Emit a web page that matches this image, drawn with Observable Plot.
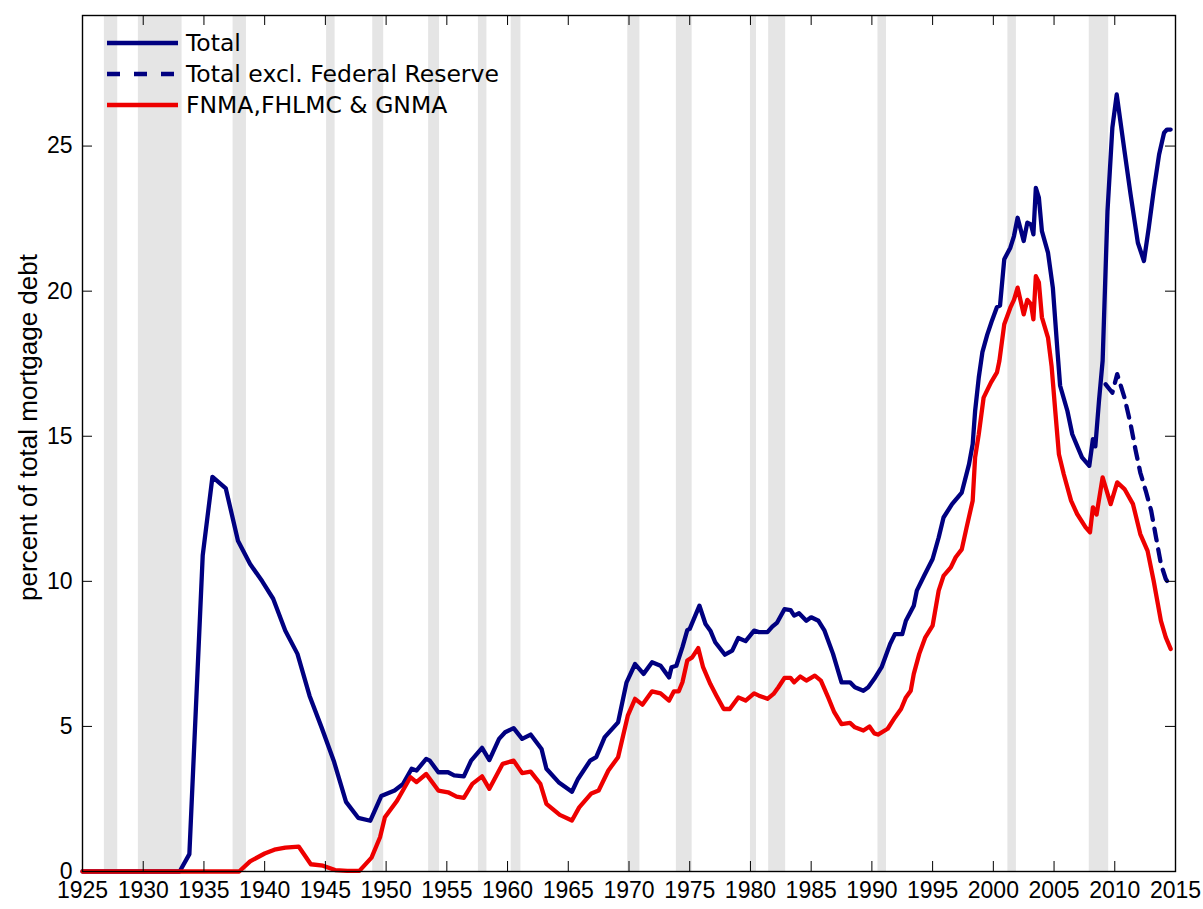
<!DOCTYPE html>
<html><head><meta charset="utf-8">
<script src="https://cdn.jsdelivr.net/npm/d3@7"></script>
<script src="https://cdn.jsdelivr.net/npm/@observablehq/plot@0.6"></script>
<style>
body{margin:0;background:#fff}
#chart g[aria-label="x-axis tick label"], #chart g[aria-label="x-axis tick label"] text,
#chart g[aria-label="y-axis tick label"], #chart g[aria-label="y-axis tick label"] text {font-size:23px !important;}
</style>
</head><body><div id="chart"></div>
<script>
// ---- data ----
const totalYears = [1925,1933.0,1933.8,1934.9,1935.7,1936.8,1937.8,1938.8,1939.8,1940.7,1941.7,1942.7,1943.7,1944.7,1945.7,1946.7,1947.7,1948.7,1949.6,1950.7,1951.4,1952.1,1952.5,1953.3,1953.6,1954.3,1955.1,1955.6,1956.4,1957.0,1957.9,1958.5,1959.3,1959.8,1960.5,1961.2,1961.9,1962.8,1963.2,1964.2,1965.3,1965.8,1966.8,1967.3,1968.0,1969.1,1969.8,1970.5,1971.2,1971.9,1972.6,1973.3,1973.5,1973.9,1974.4,1974.8,1975.0,1975.8,1976.3,1976.7,1977.1,1977.9,1978.5,1979.0,1979.6,1980.3,1980.7,1981.4,1981.8,1982.2,1982.8,1983.3,1983.6,1984.0,1984.6,1985.0,1985.6,1986.1,1986.8,1987.5,1988.2,1988.6,1989.3,1989.7,1990.2,1990.8,1991.5,1991.9,1992.5,1992.8,1993.45,1993.7,1994.3,1995.0,1995.5,1995.9,1996.6,1997.4,1998.0,1998.3,1998.5,1998.8,1999.1,1999.5,1999.9,2000.3,2000.55,2000.9,2001.4,2001.7,2002.0,2002.5,2002.8,2003.1,2003.3,2003.5,2003.75,2004.0,2004.5,2004.9,2005.3,2005.5,2006.1,2006.5,2006.9,2007.3,2007.9,2008.2,2008.4,2008.7,2009.0,2009.4,2009.8,2010.16,2010.8,2011.3,2011.9,2012.4,2012.8,2013.2,2013.65,2014.06,2014.3,2014.6];
const totalValues = [0,0,0.6,10.9,13.6,13.2,11.4,10.6,10.0,9.4,8.3,7.5,6.05,4.95,3.8,2.4,1.85,1.75,2.6,2.79,3.02,3.54,3.48,3.88,3.82,3.42,3.42,3.31,3.28,3.82,4.26,3.84,4.57,4.80,4.94,4.57,4.72,4.22,3.54,3.08,2.75,3.19,3.82,3.94,4.63,5.14,6.52,7.15,6.81,7.21,7.09,6.69,7.04,7.09,7.73,8.32,8.36,9.16,8.53,8.3,7.9,7.47,7.61,8.05,7.94,8.3,8.25,8.25,8.44,8.58,9.04,9.01,8.82,8.9,8.64,8.76,8.64,8.3,7.5,6.52,6.52,6.35,6.23,6.35,6.64,7.04,7.84,8.18,8.18,8.64,9.16,9.68,10.19,10.77,11.51,12.2,12.66,13.06,14.04,14.73,15.87,17.02,17.9,18.5,19.0,19.45,19.5,21.1,21.5,21.9,22.53,21.73,22.36,22.3,21.96,23.56,23.22,22.07,21.33,20.12,17.83,16.74,15.87,15.07,14.67,14.27,13.98,14.9,14.65,16.22,17.6,22.76,25.63,26.78,24.83,23.34,21.67,21.04,22.19,23.45,24.71,25.46,25.57,25.57];

const exFedYears = [2009.25,2009.8,2010.2,2010.8,2011.3,2011.7,2012.1,2012.55,2013.0,2013.4,2013.8,2014.2,2014.55];
const exFedValues = [16.79,16.5,17.14,16.33,15.42,14.55,13.75,13.12,12.43,11.51,10.6,10.08,9.85];

const gseYears = [1925,1937.9,1938.8,1940.0,1940.8,1941.7,1942.8,1943.8,1944.8,1945.8,1946.8,1947.8,1948.8,1949.5,1949.9,1950.9,1952.0,1952.5,1953.3,1954.3,1955.1,1955.8,1956.4,1957.1,1957.9,1958.5,1959.6,1960.5,1961.2,1961.9,1962.7,1963.2,1964.3,1965.3,1965.9,1966.9,1967.5,1968.3,1969.1,1969.9,1970.5,1971.1,1971.9,1972.6,1973.3,1973.7,1974.1,1974.4,1974.8,1975.2,1975.7,1976.1,1976.7,1977.2,1977.8,1978.3,1979.0,1979.6,1980.3,1980.7,1981.4,1981.9,1982.3,1982.8,1983.3,1983.6,1984.1,1984.6,1985.3,1985.8,1986.4,1986.9,1987.5,1988.2,1988.6,1989.3,1989.8,1990.2,1990.5,1991.3,1991.9,1992.4,1992.8,1993.2,1993.45,1993.9,1994.4,1995.0,1995.5,1995.9,1996.5,1996.9,1997.4,1997.8,1998.3,1998.5,1998.8,1999.2,1999.8,2000.3,2000.5,2000.9,2001.4,2001.7,2002.0,2002.5,2002.8,2003.1,2003.3,2003.5,2003.75,2004.0,2004.5,2004.8,2005.1,2005.4,2005.8,2006.4,2006.9,2007.6,2007.96,2008.2,2008.5,2009.0,2009.66,2010.2,2010.8,2011.5,2012.1,2012.7,2013.2,2013.8,2014.2,2014.6];
const gseValues = [0,0,0.35,0.62,0.75,0.82,0.86,0.25,0.2,0.05,0.02,0.02,0.48,1.18,1.87,2.44,3.25,3.08,3.36,2.79,2.73,2.58,2.54,3.02,3.28,2.85,3.71,3.82,3.39,3.44,3.02,2.33,1.95,1.76,2.21,2.69,2.79,3.48,3.94,5.37,5.95,5.75,6.21,6.14,5.89,6.21,6.21,6.52,7.27,7.38,7.70,7.04,6.46,6.06,5.6,5.6,6.0,5.89,6.14,6.06,5.95,6.12,6.35,6.67,6.67,6.52,6.72,6.58,6.75,6.58,6.0,5.49,5.08,5.12,4.97,4.86,5.0,4.76,4.72,4.92,5.31,5.6,6.0,6.23,6.81,7.5,8.07,8.47,9.68,10.19,10.48,10.83,11.1,11.86,12.78,14.27,15.07,16.33,16.85,17.2,17.6,18.86,19.43,19.7,20.12,19.2,19.7,19.55,19.03,20.52,20.3,19.1,18.4,17.4,15.87,14.38,13.69,12.78,12.32,11.86,11.69,12.55,12.3,13.58,12.66,13.41,13.18,12.66,11.63,11.05,10.02,8.64,8.07,7.67];

const recessionStart = [1926.8,1929.6,1937.4,1945.1,1948.9,1953.5,1957.6,1960.3,1969.9,1973.9,1980.0,1981.5,1990.5,2001.2,2007.9];
const recessionEnd   = [1927.9,1933.2,1938.5,1945.8,1949.8,1954.4,1958.3,1961.1,1970.9,1975.2,1980.5,1982.9,1991.2,2001.9,2009.5];

const xTicks = [1925,1930,1935,1940,1945,1950,1955,1960,1965,1970,1975,1980,1985,1990,1995,2000,2005,2010,2015];
const yTicks = [0,5,10,15,20,25];

const seriesNames = ["Total","Total excl. Federal Reserve","FNMA,FHLMC & GNMA"];
const yLabel = "percent of total mortgage debt";

// ---- build tables ----
const zip = (xs, ys) => xs.map((x, i) => ({year: x, value: ys[i]}));
const total = zip(totalYears, totalValues);
const exFed = zip(exFedYears, exFedValues);
const gse = zip(gseYears, gseValues);
const recessions = recessionStart.map((s, i) => ({start: s, end: recessionEnd[i]}));

const W = 1203, H = 909, mL = 82, mR = 28, mT = 15, mB = 38;
const pW = W - mL - mR, pH = H - mT - mB, tk = 10;
const BLUE = "#000080", RED = "#ee0000";

const plot = Plot.plot({
  width: W, height: H,
  marginLeft: mL, marginRight: mR, marginTop: mT, marginBottom: mB,
  x: {domain: [1925, 2015]},
  y: {domain: [0, 29.5]},
  style: {fontFamily: "'Liberation Sans', Arial, sans-serif", fontSize: "23px", color: "#000", background: "#fff", overflow: "visible"},
  marks: [
    Plot.rect(recessions, {x1: "start", x2: "end", fill: "#e5e5e5"}),
    Plot.line(total, {x: "year", y: "value", stroke: BLUE, strokeWidth: 4.3}),
    Plot.line(exFed, {x: "year", y: "value", stroke: BLUE, strokeWidth: 4.3, strokeDasharray: "12,9"}),
    Plot.line(gse, {x: "year", y: "value", stroke: RED, strokeWidth: 4.3}),
    Plot.frame({stroke: "#000", strokeWidth: 1.4}),
    Plot.tickX(xTicks, {x: d => d, insetTop: pH - tk, stroke: "#000"}),
    Plot.tickX(xTicks, {x: d => d, insetBottom: pH - tk, stroke: "#000"}),
    Plot.tickY(yTicks, {y: d => d, insetRight: pW - tk, stroke: "#000"}),
    Plot.tickY(yTicks, {y: d => d, insetLeft: pW - tk, stroke: "#000"}),
    Plot.axisX(xTicks, {tickSize: 0, tickPadding: 10, tickFormat: d => String(d), fontSize: 23, label: null}),
    Plot.axisY(yTicks, {tickSize: 0, tickPadding: 10, fontSize: 23, label: null}),
    Plot.text([yLabel], {text: d => d, frameAnchor: "left", textAnchor: "middle", lineAnchor: "middle", dx: -54, dy: -16, rotate: -90, fontSize: 26})
  ]
});
document.getElementById("chart").appendChild(plot);

// legend inside the frame, top-left
const svg = d3.select(plot);
const lg = svg.append("g").attr("class", "legend");
const styles = [{stroke: BLUE, dash: null}, {stroke: BLUE, dash: "13,14"}, {stroke: RED, dash: null}];
seriesNames.forEach((name, i) => {
  const y = 43 + i * 31;
  lg.append("line").attr("x1", 107).attr("x2", 178).attr("y1", y).attr("y2", y)
    .attr("stroke", styles[i].stroke).attr("stroke-width", 4.3)
    .attr("stroke-dasharray", styles[i].dash);
  lg.append("text").attr("x", 186).attr("y", y).attr("dy", "0.36em")
    .attr("text-anchor", "start")
    .attr("font-family", "'DejaVu Sans', sans-serif").attr("font-size", 23.5)
    .attr("fill", "#000").text(name);
});
</script>
</body></html>
